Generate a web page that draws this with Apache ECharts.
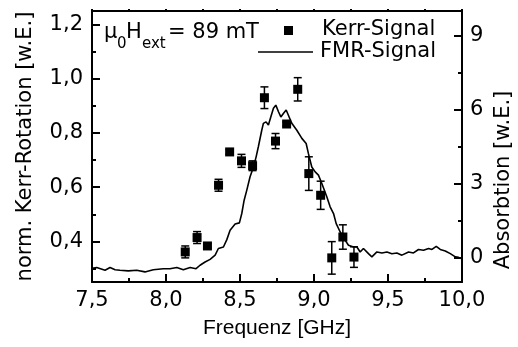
<!DOCTYPE html>
<html>
<head>
<meta charset="utf-8">
<script src="https://cdn.jsdelivr.net/npm/echarts@6/dist/echarts.min.js"></script>
<style>
html,body{margin:0;padding:0;background:#fff;}
#chart{width:518px;height:347px;}
</style>
</head>
<body>
<div id="chart"></div>
<script>
// Kerr signal (left axis)
const kerrFreq = [8.13, 8.21, 8.28, 8.355, 8.43, 8.51, 8.585, 8.665, 8.74, 8.815, 8.89, 8.965, 9.045, 9.12, 9.195, 9.27];
const kerrVal  = [0.361, 0.414, 0.383, 0.607, 0.730, 0.697, 0.679, 0.930, 0.770, 0.833, 0.961, 0.650, 0.570, 0.339, 0.416, 0.342];
const kerrErr  = [0.022, 0.022, 0.008, 0.022, 0.008, 0.024, 0.018, 0.040, 0.028, 0.008, 0.043, 0.062, 0.052, 0.060, 0.045, 0.038];

// FMR signal (right axis)
const fmrFreq = [7.5, 7.532, 7.588, 7.622, 7.656, 7.689, 7.745, 7.802, 7.858, 7.914, 7.982, 8.027, 8.073, 8.117, 8.163, 8.203,
  8.23, 8.264, 8.298, 8.332, 8.354, 8.388, 8.411, 8.433, 8.467, 8.496, 8.512, 8.528, 8.546, 8.568, 8.591, 8.609, 8.624,
  8.647, 8.658, 8.676, 8.692, 8.708, 8.726, 8.742, 8.76, 8.776, 8.793, 8.812, 8.827, 8.85, 8.884, 8.918, 8.947, 8.962,
  8.985, 9.008, 9.03, 9.053, 9.087, 9.109, 9.132, 9.15, 9.177, 9.211, 9.233, 9.267, 9.29, 9.312, 9.334, 9.368, 9.391,
  9.425, 9.459, 9.493, 9.526, 9.56, 9.594, 9.639, 9.672, 9.706, 9.74, 9.774, 9.797, 9.826, 9.853, 9.887, 9.921, 9.955,
  9.977, 9.995];
const fmrAbs = [-0.44, -0.41, -0.52, -0.41, -0.50, -0.52, -0.55, -0.52, -0.59, -0.50, -0.46, -0.46, -0.41, -0.50, -0.41, -0.46,
  -0.32, -0.19, -0.08, 0.09, 0.36, 0.42, 0.72, 1.10, 1.35, 1.40, 1.78, 2.32, 2.73, 3.27, 3.67, 4.08, 4.49,
  5.16, 5.44, 5.50, 5.37, 5.70, 6.05, 6.18, 5.91, 5.70, 5.84, 5.98, 5.77, 5.44, 5.16, 4.83, 4.62, 4.22,
  3.67, 3.47, 3.34, 3.00, 2.45, 2.05, 1.78, 1.37, 1.03, 0.69, 0.49, 0.42, 0.42, 0.22, 0.36, 0.15, 0.02,
  0.22, 0.18, 0.22, 0.15, 0.18, 0.09, 0.22, 0.18, 0.32, 0.29, 0.36, 0.32, 0.45, 0.32, 0.26, 0.15, 0.02,
  0.00, -0.05];

// tick labels / tick positions
const leftLabels = [0.4, 0.6, 0.8, 1.0, 1.2];
const leftMinor  = [0.3, 0.5, 0.7, 0.9, 1.1];
const rightLabels = [0, 3, 6, 9];
const rightMinor  = [1.5, 4.5, 7.5];

const FONT = 'DejaVu Sans';
const comma1 = v => v.toFixed(1).replace('.', ',');

const chart = echarts.init(document.getElementById('chart'), null, {renderer: 'canvas'});

const axisLineStyle = {show: true, onZero: false, lineStyle: {color: '#000', width: 2}};

const option = {
  backgroundColor: '#fff',
  animation: false,
  grid: {left: 92, right: 56, top: 11, bottom: 65, containLabel: false},
  xAxis: [
    {
      type: 'value', position: 'bottom', min: 7.5, max: 10, interval: 0.5,
      axisLine: axisLineStyle,
      axisTick: {show: true, inside: true, length: 8, lineStyle: {color: '#000', width: 2}},
      minorTick: {show: true, splitNumber: 2, length: 4, lineStyle: {color: '#000', width: 2}},
      splitLine: {show: false},
      axisLabel: {formatter: comma1, color: '#000', fontFamily: FONT, fontSize: 21, margin: 8},
      name: 'Frequenz [GHz]', nameLocation: 'middle', nameGap: 36,
      nameTextStyle: {color: '#000', fontFamily: 'Liberation Sans', fontSize: 21}
    },
    {
      type: 'value', position: 'top', min: 7.5, max: 10, interval: 0.5,
      axisLine: axisLineStyle,
      axisTick: {show: true, inside: false, length: 2, lineStyle: {color: '#000', width: 2}},
      minorTick: {show: true, splitNumber: 2, length: 2, lineStyle: {color: '#000', width: 2}},
      splitLine: {show: false},
      axisLabel: {show: false}
    }
  ],
  yAxis: [
    {
      type: 'value', position: 'left', min: 0.25, max: 1.25,
      axisLine: axisLineStyle,
      axisTick: {show: true, inside: true, length: 8, customValues: leftLabels, lineStyle: {color: '#000', width: 2}},
      splitLine: {show: false},
      axisLabel: {customValues: leftLabels, formatter: comma1, color: '#000', fontFamily: FONT, fontSize: 21, margin: 9},
      name: 'norm. Kerr-Rotation [w.E.]', nameLocation: 'middle', nameGap: 56,
      nameTextStyle: {color: '#000', fontFamily: FONT, fontSize: 21}
    },
    {
      type: 'value', position: 'right', min: -1, max: 10,
      axisLine: axisLineStyle,
      axisTick: {show: true, inside: true, length: 8, customValues: rightLabels, lineStyle: {color: '#000', width: 2}},
      splitLine: {show: false},
      axisLabel: {customValues: rightLabels, formatter: v => String(v), color: '#000', fontFamily: FONT, fontSize: 21, margin: 8}
    },
    {
      type: 'value', position: 'left', min: 0.25, max: 1.25,
      axisLine: {show: false, onZero: false},
      axisTick: {show: true, inside: true, length: 4, customValues: leftMinor, lineStyle: {color: '#000', width: 2}},
      splitLine: {show: false},
      axisLabel: {show: false}
    },
    {
      type: 'value', position: 'right', min: -1, max: 10,
      axisLine: {show: false, onZero: false},
      axisTick: {show: true, inside: true, length: 4, customValues: rightMinor, lineStyle: {color: '#000', width: 2}},
      splitLine: {show: false},
      axisLabel: {show: false}
    }
  ],
  series: [
    {
      name: 'FMR-Signal', type: 'line', xAxisIndex: 0, yAxisIndex: 1,
      data: fmrFreq.map((f, i) => [f, fmrAbs[i]]),
      showSymbol: false, symbol: 'none', smooth: false,
      lineStyle: {color: '#000', width: 1.6}, z: 2
    },
    {
      name: 'Kerr-Error', type: 'custom', xAxisIndex: 0, yAxisIndex: 0,
      data: kerrFreq.map((f, i) => [f, kerrVal[i] - kerrErr[i], kerrVal[i] + kerrErr[i]]),
      encode: {x: 0, y: [1, 2]},
      renderItem: function (params, api) {
        const x = api.value(0);
        const lo = api.coord([x, api.value(1)]);
        const hi = api.coord([x, api.value(2)]);
        const w = 4;
        const st = {stroke: '#000', lineWidth: 1.5, fill: null};
        return {
          type: 'group',
          children: [
            {type: 'line', shape: {x1: lo[0], y1: lo[1], x2: hi[0], y2: hi[1]}, style: st},
            {type: 'line', shape: {x1: lo[0] - w, y1: lo[1], x2: lo[0] + w, y2: lo[1]}, style: st},
            {type: 'line', shape: {x1: hi[0] - w, y1: hi[1], x2: hi[0] + w, y2: hi[1]}, style: st}
          ]
        };
      },
      z: 3
    },
    {
      name: 'Kerr-Signal', type: 'scatter', xAxisIndex: 0, yAxisIndex: 0,
      data: kerrFreq.map((f, i) => [f, kerrVal[i]]),
      symbol: 'rect', symbolSize: 9,
      itemStyle: {color: '#000', opacity: 1}, z: 4
    }
  ],
  graphic: [
    // annotation μ0Hext = 89 mT
    {type: 'text', x: 104, y: 33, style: {text: 'μ', font: '21px "DejaVu Sans"', fill: '#000', verticalAlign: 'middle'}},
    {type: 'text', x: 117, y: 44, style: {text: '0', font: '15px "DejaVu Sans"', fill: '#000', verticalAlign: 'middle'}},
    {type: 'text', x: 126, y: 33, style: {text: 'H', font: '21px "DejaVu Sans"', fill: '#000', verticalAlign: 'middle'}},
    {type: 'text', x: 142, y: 44, style: {text: 'ext', font: '15px "DejaVu Sans"', fill: '#000', verticalAlign: 'middle'}},
    {type: 'text', x: 168, y: 33, style: {text: '= 89 mT', font: '21px "DejaVu Sans"', fill: '#000', verticalAlign: 'middle'}},
    // legend
    {type: 'rect', shape: {x: 284, y: 26, width: 9, height: 9}, style: {fill: '#000'}},
    {type: 'text', x: 322, y: 30, style: {text: 'Kerr-Signal', font: '21px "DejaVu Sans"', fill: '#000', verticalAlign: 'middle'}},
    {type: 'line', shape: {x1: 258, y1: 52, x2: 313, y2: 52}, style: {stroke: '#000', lineWidth: 1.6}},
    {type: 'text', x: 320, y: 52, style: {text: 'FMR-Signal', font: '21px "DejaVu Sans"', fill: '#000', verticalAlign: 'middle'}},
    // right axis title
    {type: 'text', x: 504, y: 180, rotation: Math.PI / 2,
     style: {text: 'Absorbtion [w.E.]', font: '21px "DejaVu Sans"', fill: '#000', align: 'center', verticalAlign: 'middle'}}
  ]
};

chart.setOption(option);
</script>
</body>
</html>
